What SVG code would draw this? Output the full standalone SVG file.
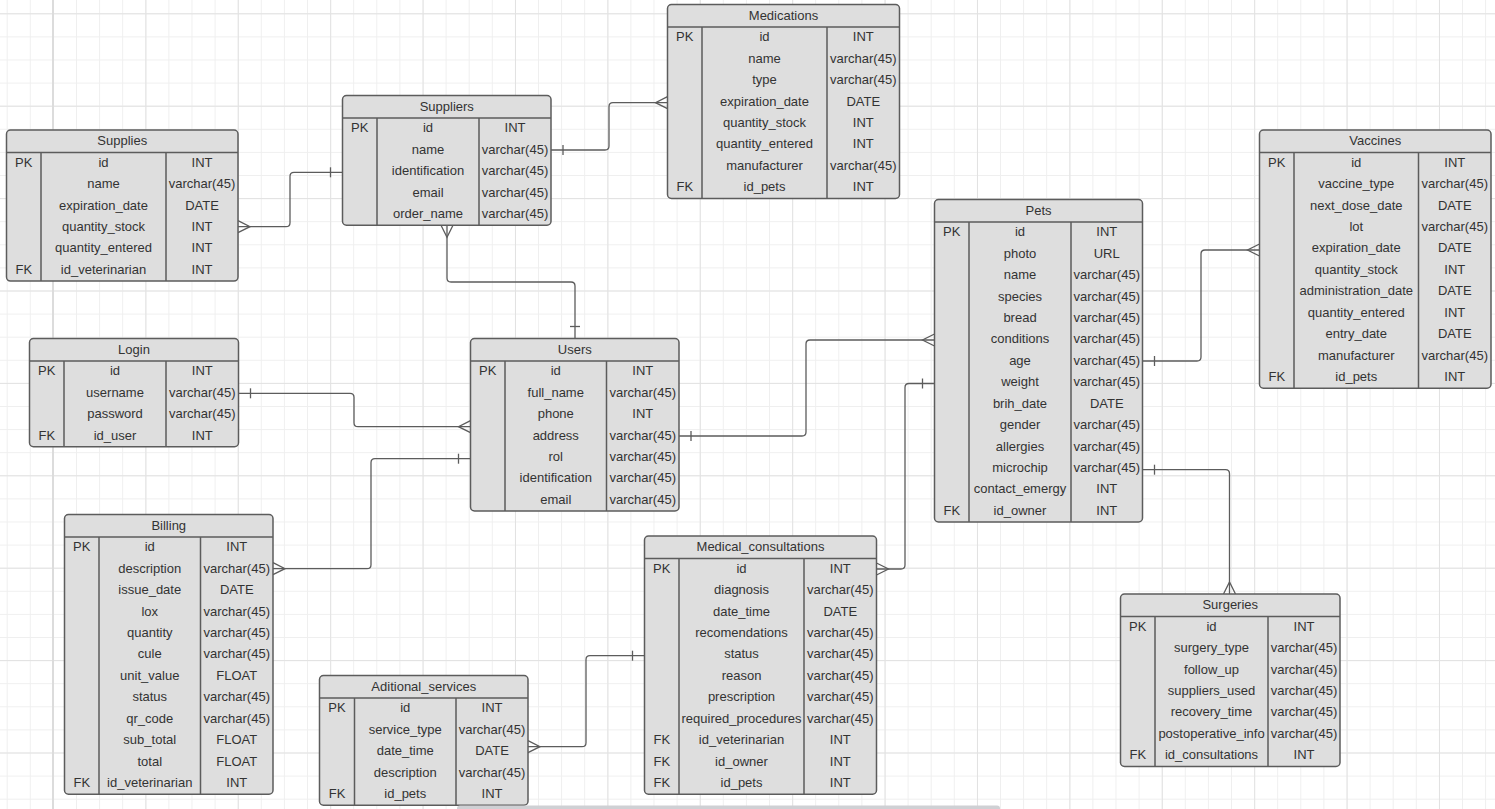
<svg xmlns="http://www.w3.org/2000/svg" width="1495" height="809" viewBox="0 0 1495 809">
<style>
.box{fill:#dedede;stroke:#5c5c5c;stroke-width:1.5}
.ln{stroke:#5c5c5c;stroke-width:1.5;fill:none}
text{font-family:"Liberation Sans",Arial,sans-serif;font-size:13px;fill:#333;text-anchor:middle}
.con{fill:none;stroke:#5c5c5c;stroke-width:1.3;marker-start:url(#one);marker-end:url(#many)}
</style>
<defs>
<pattern id="minor" patternUnits="userSpaceOnUse" x="6.7" y="13.3" width="23.1" height="23.1">
<path d="M0.5,0V23.1M0,0.5H23.1" stroke="#efefef" stroke-width="1" fill="none"/>
</pattern>
<pattern id="major" patternUnits="userSpaceOnUse" x="53" y="13.3" width="92.4" height="92.4">
<path d="M0.5,0V92.4M0,0.5H92.4" stroke="#e2e2e2" stroke-width="1" fill="none"/>
</pattern>
<marker id="one" markerUnits="userSpaceOnUse" orient="auto-start-reverse" refX="0" refY="0" markerWidth="1" markerHeight="1" overflow="visible">
<path d="M-12,-5V5" stroke="#5c5c5c" stroke-width="1.3" fill="none"/>
</marker>
<marker id="many" markerUnits="userSpaceOnUse" orient="auto" refX="0" refY="0" markerWidth="1" markerHeight="1" overflow="visible">
<path d="M0,-6L-12,0L0,6" stroke="#5c5c5c" stroke-width="1.3" fill="none"/>
</marker>
</defs>
<rect width="1495" height="809" fill="#ffffff"/>
<rect width="1495" height="809" fill="url(#minor)"/>
<rect width="1495" height="809" fill="url(#major)"/>
<path d="M53,0V809" stroke="#dcdcdc" stroke-width="2"/>

<g id="connectors">
<path class="con" d="M342.5,172.3H294Q290,172.3 290,176.3V222.7Q290,226.7 286,226.7H238"/>
<path class="con" d="M551,150H605Q609,150 609,146V106.7Q609,102.7 613,102.7H667.5"/>
<path class="con" d="M575,338.5V286Q575,282 571,282H451Q447,282 447,278V225.2"/>
<path class="con" d="M238.5,393.3H350Q354,393.3 354,397.3V422.7Q354,426.7 358,426.7H470.5"/>
<path class="con" d="M470.5,458.7H375Q371,458.7 371,462.7V564.7Q371,568.7 367,568.7H273"/>
<path class="con" d="M679,436H802Q806,436 806,432V344Q806,340 810,340H934.5"/>
<path class="con" d="M934.5,383.5H909Q905,383.5 905,387.5V565Q905,569 901,569H876.5"/>
<path class="con" d="M644.5,655.7H590Q586,655.7 586,659.7V742.7Q586,746.7 582,746.7H528"/>
<path class="con" d="M1142.5,361H1197Q1201,361 1201,357V254Q1201,250 1205,250H1259.5"/>
<path class="con" d="M1142.5,469.7H1225.5Q1229.5,469.7 1229.5,473.7V594"/>
</g>

<g id="supplies" transform="translate(6.5,130)">
<rect class="box" width="231.5" height="151.1" rx="4"/>
<path class="ln" d="M0,22.5H231.5M34.5,22.5V151.1M159.5,22.5V151.1"/>
<text x="115.75" y="15">Supplies</text>
<text x="17.25" y="36.7">PK</text><text x="97" y="36.7">id</text><text x="195.5" y="36.7">INT</text>
<text x="97" y="58.1">name</text><text x="195.5" y="58.1">varchar(45)</text>
<text x="97" y="79.6">expiration_date</text><text x="195.5" y="79.6">DATE</text>
<text x="97" y="101">quantity_stock</text><text x="195.5" y="101">INT</text>
<text x="97" y="122.4">quantity_entered</text><text x="195.5" y="122.4">INT</text>
<text x="17.25" y="143.9">FK</text><text x="97" y="143.9">id_veterinarian</text><text x="195.5" y="143.9">INT</text>
</g>

<g id="suppliers" transform="translate(342.5,95.5)">
<rect class="box" width="208.5" height="129.7" rx="4"/>
<path class="ln" d="M0,22.5H208.5M34.5,22.5V129.7M136.5,22.5V129.7"/>
<text x="104.25" y="15">Suppliers</text>
<text x="17.25" y="36.7">PK</text><text x="85.5" y="36.7">id</text><text x="172.5" y="36.7">INT</text>
<text x="85.5" y="58.1">name</text><text x="172.5" y="58.1">varchar(45)</text>
<text x="85.5" y="79.6">identification</text><text x="172.5" y="79.6">varchar(45)</text>
<text x="85.5" y="101">email</text><text x="172.5" y="101">varchar(45)</text>
<text x="85.5" y="122.4">order_name</text><text x="172.5" y="122.4">varchar(45)</text>
</g>

<g id="medications" transform="translate(667.5,4.5)">
<rect class="box" width="232" height="193.9" rx="4"/>
<path class="ln" d="M0,22.5H232M34.5,22.5V193.9M159.5,22.5V193.9"/>
<text x="116" y="15">Medications</text>
<text x="17.25" y="36.7">PK</text><text x="97" y="36.7">id</text><text x="195.75" y="36.7">INT</text>
<text x="97" y="58.1">name</text><text x="195.75" y="58.1">varchar(45)</text>
<text x="97" y="79.6">type</text><text x="195.75" y="79.6">varchar(45)</text>
<text x="97" y="101">expiration_date</text><text x="195.75" y="101">DATE</text>
<text x="97" y="122.4">quantity_stock</text><text x="195.75" y="122.4">INT</text>
<text x="97" y="143.9">quantity_entered</text><text x="195.75" y="143.9">INT</text>
<text x="97" y="165.3">manufacturer</text><text x="195.75" y="165.3">varchar(45)</text>
<text x="17.25" y="186.7">FK</text><text x="97" y="186.7">id_pets</text><text x="195.75" y="186.7">INT</text>
</g>

<g id="vaccines" transform="translate(1259.5,130)">
<rect class="box" width="231.5" height="258.2" rx="4"/>
<path class="ln" d="M0,22.5H231.5M34.5,22.5V258.2M159,22.5V258.2"/>
<text x="115.75" y="15">Vaccines</text>
<text x="17.25" y="36.7">PK</text><text x="96.75" y="36.7">id</text><text x="195.25" y="36.7">INT</text>
<text x="96.75" y="58.1">vaccine_type</text><text x="195.25" y="58.1">varchar(45)</text>
<text x="96.75" y="79.6">next_dose_date</text><text x="195.25" y="79.6">DATE</text>
<text x="96.75" y="101">lot</text><text x="195.25" y="101">varchar(45)</text>
<text x="96.75" y="122.4">expiration_date</text><text x="195.25" y="122.4">DATE</text>
<text x="96.75" y="143.9">quantity_stock</text><text x="195.25" y="143.9">INT</text>
<text x="96.75" y="165.3">administration_date</text><text x="195.25" y="165.3">DATE</text>
<text x="96.75" y="186.7">quantity_entered</text><text x="195.25" y="186.7">INT</text>
<text x="96.75" y="208.1">entry_date</text><text x="195.25" y="208.1">DATE</text>
<text x="96.75" y="229.6">manufacturer</text><text x="195.25" y="229.6">varchar(45)</text>
<text x="17.25" y="251">FK</text><text x="96.75" y="251">id_pets</text><text x="195.25" y="251">INT</text>
</g>

<g id="pets" transform="translate(934.5,199.5)">
<rect class="box" width="208" height="322.5" rx="4"/>
<path class="ln" d="M0,22.5H208M34.5,22.5V322.5M136.5,22.5V322.5"/>
<text x="104" y="15">Pets</text>
<text x="17.25" y="36.7">PK</text><text x="85.5" y="36.7">id</text><text x="172.25" y="36.7">INT</text>
<text x="85.5" y="58.1">photo</text><text x="172.25" y="58.1">URL</text>
<text x="85.5" y="79.6">name</text><text x="172.25" y="79.6">varchar(45)</text>
<text x="85.5" y="101">species</text><text x="172.25" y="101">varchar(45)</text>
<text x="85.5" y="122.4">bread</text><text x="172.25" y="122.4">varchar(45)</text>
<text x="85.5" y="143.9">conditions</text><text x="172.25" y="143.9">varchar(45)</text>
<text x="85.5" y="165.3">age</text><text x="172.25" y="165.3">varchar(45)</text>
<text x="85.5" y="186.7">weight</text><text x="172.25" y="186.7">varchar(45)</text>
<text x="85.5" y="208.1">brih_date</text><text x="172.25" y="208.1">DATE</text>
<text x="85.5" y="229.6">gender</text><text x="172.25" y="229.6">varchar(45)</text>
<text x="85.5" y="251">allergies</text><text x="172.25" y="251">varchar(45)</text>
<text x="85.5" y="272.4">microchip</text><text x="172.25" y="272.4">varchar(45)</text>
<text x="85.5" y="293.9">contact_emergy</text><text x="172.25" y="293.9">INT</text>
<text x="17.25" y="315.3">FK</text><text x="85.5" y="315.3">id_owner</text><text x="172.25" y="315.3">INT</text>
</g>

<g id="login" transform="translate(29.5,338.5)">
<rect class="box" width="209" height="108.2" rx="4"/>
<path class="ln" d="M0,22.5H209M34.5,22.5V108.2M136.5,22.5V108.2"/>
<text x="104.5" y="15">Login</text>
<text x="17.25" y="36.7">PK</text><text x="85.5" y="36.7">id</text><text x="172.75" y="36.7">INT</text>
<text x="85.5" y="58.1">username</text><text x="172.75" y="58.1">varchar(45)</text>
<text x="85.5" y="79.6">password</text><text x="172.75" y="79.6">varchar(45)</text>
<text x="17.25" y="101">FK</text><text x="85.5" y="101">id_user</text><text x="172.75" y="101">INT</text>
</g>

<g id="users" transform="translate(470.5,338.5)">
<rect class="box" width="208.5" height="172.5" rx="4"/>
<path class="ln" d="M0,22.5H208.5M34.5,22.5V172.5M136,22.5V172.5"/>
<text x="104.25" y="15">Users</text>
<text x="17.25" y="36.7">PK</text><text x="85.25" y="36.7">id</text><text x="172.25" y="36.7">INT</text>
<text x="85.25" y="58.1">full_name</text><text x="172.25" y="58.1">varchar(45)</text>
<text x="85.25" y="79.6">phone</text><text x="172.25" y="79.6">INT</text>
<text x="85.25" y="101">address</text><text x="172.25" y="101">varchar(45)</text>
<text x="85.25" y="122.4">rol</text><text x="172.25" y="122.4">varchar(45)</text>
<text x="85.25" y="143.9">identification</text><text x="172.25" y="143.9">varchar(45)</text>
<text x="85.25" y="165.3">email</text><text x="172.25" y="165.3">varchar(45)</text>
</g>

<g id="billing" transform="translate(64.5,514.5)">
<rect class="box" width="208.5" height="279.7" rx="4"/>
<path class="ln" d="M0,22.5H208.5M34.5,22.5V279.7M136,22.5V279.7"/>
<text x="104.25" y="15">Billing</text>
<text x="17.25" y="36.7">PK</text><text x="85.25" y="36.7">id</text><text x="172.25" y="36.7">INT</text>
<text x="85.25" y="58.1">description</text><text x="172.25" y="58.1">varchar(45)</text>
<text x="85.25" y="79.6">issue_date</text><text x="172.25" y="79.6">DATE</text>
<text x="85.25" y="101">lox</text><text x="172.25" y="101">varchar(45)</text>
<text x="85.25" y="122.4">quantity</text><text x="172.25" y="122.4">varchar(45)</text>
<text x="85.25" y="143.9">cule</text><text x="172.25" y="143.9">varchar(45)</text>
<text x="85.25" y="165.3">unit_value</text><text x="172.25" y="165.3">FLOAT</text>
<text x="85.25" y="186.7">status</text><text x="172.25" y="186.7">varchar(45)</text>
<text x="85.25" y="208.1">qr_code</text><text x="172.25" y="208.1">varchar(45)</text>
<text x="85.25" y="229.6">sub_total</text><text x="172.25" y="229.6">FLOAT</text>
<text x="85.25" y="251">total</text><text x="172.25" y="251">FLOAT</text>
<text x="17.25" y="272.4">FK</text><text x="85.25" y="272.4">id_veterinarian</text><text x="172.25" y="272.4">INT</text>
</g>

<g id="aditional_services" transform="translate(319.5,675.5)">
<rect class="box" width="208.5" height="129.7" rx="4"/>
<path class="ln" d="M0,22.5H208.5M35,22.5V129.7M136.5,22.5V129.7"/>
<text x="104.25" y="15">Aditional_services</text>
<text x="17.5" y="36.7">PK</text><text x="85.75" y="36.7">id</text><text x="172.5" y="36.7">INT</text>
<text x="85.75" y="58.1">service_type</text><text x="172.5" y="58.1">varchar(45)</text>
<text x="85.75" y="79.6">date_time</text><text x="172.5" y="79.6">DATE</text>
<text x="85.75" y="101">description</text><text x="172.5" y="101">varchar(45)</text>
<text x="17.5" y="122.4">FK</text><text x="85.75" y="122.4">id_pets</text><text x="172.5" y="122.4">INT</text>
</g>

<g id="medical_consultations" transform="translate(644.5,536)">
<rect class="box" width="232" height="258.2" rx="4"/>
<path class="ln" d="M0,22.5H232M34.5,22.5V258.2M159.5,22.5V258.2"/>
<text x="116" y="15">Medical_consultations</text>
<text x="17.25" y="36.7">PK</text><text x="97" y="36.7">id</text><text x="195.75" y="36.7">INT</text>
<text x="97" y="58.1">diagnosis</text><text x="195.75" y="58.1">varchar(45)</text>
<text x="97" y="79.6">date_time</text><text x="195.75" y="79.6">DATE</text>
<text x="97" y="101">recomendations</text><text x="195.75" y="101">varchar(45)</text>
<text x="97" y="122.4">status</text><text x="195.75" y="122.4">varchar(45)</text>
<text x="97" y="143.9">reason</text><text x="195.75" y="143.9">varchar(45)</text>
<text x="97" y="165.3">prescription</text><text x="195.75" y="165.3">varchar(45)</text>
<text x="97" y="186.7">required_procedures</text><text x="195.75" y="186.7">varchar(45)</text>
<text x="17.25" y="208.1">FK</text><text x="97" y="208.1">id_veterinarian</text><text x="195.75" y="208.1">INT</text>
<text x="17.25" y="229.6">FK</text><text x="97" y="229.6">id_owner</text><text x="195.75" y="229.6">INT</text>
<text x="17.25" y="251">FK</text><text x="97" y="251">id_pets</text><text x="195.75" y="251">INT</text>
</g>

<g id="surgeries" transform="translate(1120.5,594)">
<rect class="box" width="219.5" height="172.5" rx="4"/>
<path class="ln" d="M0,22.5H219.5M34.5,22.5V172.5M147.5,22.5V172.5"/>
<text x="109.75" y="15">Surgeries</text>
<text x="17.25" y="36.7">PK</text><text x="91" y="36.7">id</text><text x="183.5" y="36.7">INT</text>
<text x="91" y="58.1">surgery_type</text><text x="183.5" y="58.1">varchar(45)</text>
<text x="91" y="79.6">follow_up</text><text x="183.5" y="79.6">varchar(45)</text>
<text x="91" y="101">suppliers_used</text><text x="183.5" y="101">varchar(45)</text>
<text x="91" y="122.4">recovery_time</text><text x="183.5" y="122.4">varchar(45)</text>
<text x="91" y="143.9">postoperative_info</text><text x="183.5" y="143.9">varchar(45)</text>
<text x="17.25" y="165.3">FK</text><text x="91" y="165.3">id_consultations</text><text x="183.5" y="165.3">INT</text>
</g>

<rect x="457" y="805.5" width="543" height="6" rx="3" fill="#cfd0d4"/>
</svg>
